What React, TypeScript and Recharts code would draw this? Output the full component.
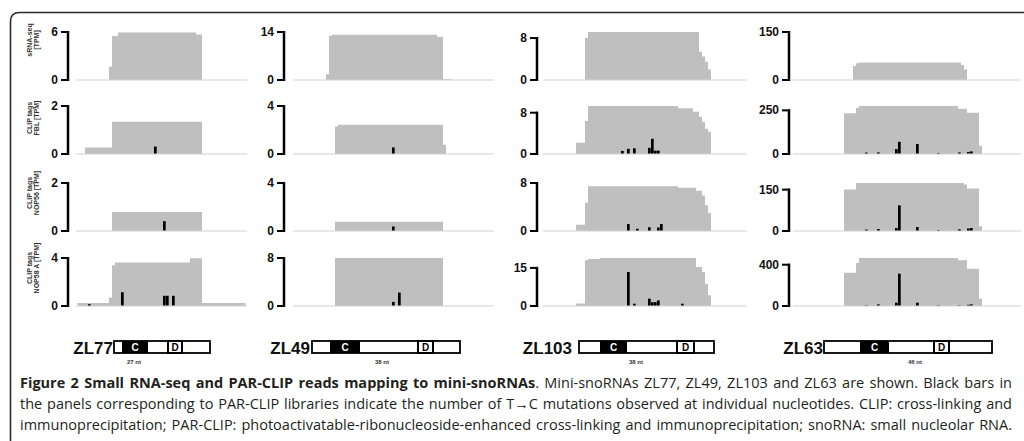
import React from "react";
import { ComposedChart, Area, Bar, XAxis, YAxis } from "recharts";

// snoRNAs shown in the four columns
const snoNames = ["ZL77", "ZL49", "ZL103", "ZL63"];
const snoLengths = ["27 nt", "38 nt", "38 nt", "46 nt"];
const positionsPerPanel = [57, 67, 68, 76];

const rowLabels = [
  ["sRNA-seq", "[TPM]"],
  ["CLIP tags", "FBL [TPM]"],
  ["CLIP tags", "NOP56 [TPM]"],
  ["CLIP tags", "NOP58 A [TPM]"],
];

// coverage as steps: [start position, TPM], value holds until the next step
const zl77Seq = [[11, 1.7], [12, 5.5], [14, 5.95], [40, 5.7], [42, 0]];
const zl77Fbl = [[3, 0.27], [12, 1.34], [42, 0]];
const zl77Nop56 = [[12, 0.79], [42, 0]];
const zl77Nop58 = [[0, 0.26], [11, 0.7], [12, 3.4], [13, 3.63], [38, 3.97], [42, 0.26]];

const zl49Seq = [[11, 1.66], [12, 12.9], [13, 13.2], [48, 12.6], [50, 0.25], [53, 0]];
const zl49Fbl = [[14, 2.3], [15, 2.44], [50, 0.78], [51, 0]];
const zl49Nop56 = [[14, 0.78], [50, 0]];
const zl49Nop58 = [[14, 8], [50, 0]];

const zl103Seq = [[14, 8], [15, 9.15], [52, 5.4], [53, 4.5], [54, 3.5], [55, 2], [56, 0]];
const zl103Fbl = [[11, 2.16], [14, 6.4], [15, 9.3], [45, 8.85], [50, 8.2], [52, 7.2], [53, 6.2], [54, 4.9], [55, 4.3], [56, 0]];
const zl103Nop56 = [[11, 1.05], [14, 4.7], [15, 7.47], [45, 7.2], [51, 6.7], [53, 5.9], [54, 4.3], [55, 3], [56, 0]];
const zl103Nop58 = [[11, 0.95], [14, 18], [15, 18.5], [19, 18.9], [51, 15.4], [53, 13.4], [54, 8.8], [55, 4.2], [56, 0]];

const zl63Seq = [[20, 44], [21, 52], [22, 55], [56, 47], [57, 33], [58, 0]];
const zl63Fbl = [[17, 233], [21, 265], [22, 275], [55, 259], [58, 237], [62, 47], [63, 0]];
const zl63Nop56 = [[17, 150], [21, 174], [57, 169], [58, 154], [62, 17], [63, 0]];
const zl63Nop58 = [[17, 323], [21, 416], [22, 465], [55, 442], [58, 361], [62, 71], [63, 0]];

// T->C mutations: [position, TPM]
const zl77FblMut = [[26, 0.31]];
const zl77Nop56Mut = [[29, 0.41]];
const zl77Nop58Mut = [[4, 0.15], [15, 1.15], [29, 0.85], [30, 0.85], [32, 0.85]];

const zl49FblMut = [[33, 0.55]];
const zl49Nop56Mut = [[33, 0.38]];
const zl49Nop58Mut = [[33, 0.69], [35, 2.24]];

const zl103FblMut = [[26, 0.6], [28, 1.0], [30, 1.1], [35, 1.2], [36, 2.95], [37, 0.65], [38, 0.65]];
const zl103Nop56Mut = [[28, 1.16], [31, 0.37], [35, 0.63], [38, 0.6], [39, 1.16]];
const zl103Nop58Mut = [[28, 13.4], [30, 0.9], [35, 2.9], [36, 1.5], [37, 1.5], [38, 2.2], [46, 0.9]];

const zl63FblMut = [[24, 8], [28, 9], [34, 28], [35, 70], [41, 57], [48, 5], [55, 9], [58, 12], [59, 15]];
const zl63Nop56Mut = [[24, 5], [28, 7], [34, 11], [35, 93], [41, 14.5], [48, 3], [55, 6], [58, 9], [59, 11]];
const zl63Nop58Mut = [[24, 6], [28, 16], [34, 32], [35, 313], [41, 32], [48, 6], [55, 6], [58, 12], [59, 16]];

// top tick of each y axis, rows top to bottom
const zl77Ticks = [6, 2, 2, 4];
const zl49Ticks = [14, 4, 4, 8];
const zl103Ticks = [8, 8, 8, 15];
const zl63Ticks = [150, 250, 150, 400];

const columns = [
  { cov: [zl77Seq, zl77Fbl, zl77Nop56, zl77Nop58], mut: [[], zl77FblMut, zl77Nop56Mut, zl77Nop58Mut], ticks: zl77Ticks },
  { cov: [zl49Seq, zl49Fbl, zl49Nop56, zl49Nop58], mut: [[], zl49FblMut, zl49Nop56Mut, zl49Nop58Mut], ticks: zl49Ticks },
  { cov: [zl103Seq, zl103Fbl, zl103Nop56, zl103Nop58], mut: [[], zl103FblMut, zl103Nop56Mut, zl103Nop58Mut], ticks: zl103Ticks },
  { cov: [zl63Seq, zl63Fbl, zl63Nop56, zl63Nop58], mut: [[], zl63FblMut, zl63Nop56Mut, zl63Nop58Mut], ticks: zl63Ticks },
];

// layout
const colLeft = [76, 293, 543, 793];
const colGap = [8, 9, 6, 4];
const rowZero = [80, 154, 231, 306];
const PLOT_H = 48;
const STEP = 3;
const YW = 40;
const MT = 8;
const MB = 8;
const ARIAL = "'Liberation Sans', Arial, sans-serif";

// gene diagram layout: label right edge, box start/end, C box, D box, nt label centre
const geneLayout = [
  { lab: 113, b0: 114, b1: 210, c0: 122, c1: 148, d0: 168, d1: 182, nt: 134 },
  { lab: 310, b0: 312, b1: 460, c0: 330, c1: 360, d0: 418, d1: 433, nt: 382 },
  { lab: 572, b0: 579, b1: 714, c0: 600, c1: 627, d0: 677, d1: 694, nt: 636 },
  { lab: 823, b0: 824, b1: 992, c0: 860, c1: 889, d0: 934, d1: 949, nt: 915 },
];
const rowLabelY = [40, 118, 193, 268];

function buildRows(n: number, steps: number[][], muts: number[][]) {
  const rows: { pos: number; cov: number; mut: number | null }[] = [];
  let k = 0;
  let v = 0;
  for (let p = 0; p < n; p++) {
    while (k < steps.length && steps[k][0] <= p) {
      v = steps[k][1];
      k++;
    }
    const m = muts.find((d) => d[0] === p);
    rows.push({ pos: p, cov: v, mut: m ? m[1] : null });
  }
  return rows;
}

const bracketTick = (gap: number, bracketPx: number) => (props: any) => {
  const { x, y, payload } = props;
  const bx = x - gap;
  return (
    <g>
      <text
        x={bx - 10}
        y={y}
        textAnchor="end"
        dominantBaseline="central"
        fontSize={12}
        fontWeight="bold"
        fontFamily={ARIAL}
        fill="#111"
      >
        {payload.value}
      </text>
      <line x1={bx - 7} x2={bx + 1} y1={y} y2={y} stroke="#000" strokeWidth={2} />
      {payload.value === 0 && (
        <line x1={bx} x2={bx} y1={y + 1} y2={y - bracketPx - 1} stroke="#000" strokeWidth={2.5} />
      )}
    </g>
  );
};

function Panel({ col, row }: { col: number; row: number }) {
  const n = positionsPerPanel[col];
  const c = columns[col];
  const tickMax = c.ticks[row];
  const data = buildRows(n, c.cov[row], c.mut[row]);
  const top = Math.max(tickMax, ...data.map((d) => Math.max(d.cov, d.mut ?? 0)));
  const bracketPx = (PLOT_H * tickMax) / top;
  return (
    <div style={{ position: "absolute", left: colLeft[col] - YW, top: rowZero[row] - PLOT_H - MT }}>
      <ComposedChart
        width={YW + n * STEP}
        height={MT + PLOT_H + 2 + MB}
        data={data}
        margin={{ top: MT, right: 0, bottom: MB, left: 0 }}
        barCategoryGap={0}
        barGap={0}
      >
        <XAxis dataKey="pos" tick={false} tickLine={false} axisLine={{ stroke: "#d2d2d2", strokeWidth: 1 }} height={2} />
        <YAxis
          width={YW}
          type="number"
          domain={[0, top]}
          ticks={[0, tickMax]}
          interval={0}
          tickSize={0}
          tickMargin={0}
          tickLine={false}
          axisLine={false}
          tick={bracketTick(colGap[col], bracketPx)}
        />
        <Area
          type="step"
          dataKey="cov"
          stroke="none"
          fill="#bfbfbf"
          fillOpacity={1}
          dot={false}
          activeDot={false}
          isAnimationActive={false}
        />
        <Bar dataKey="mut" fill="#000" barSize={3} isAnimationActive={false} />
      </ComposedChart>
    </div>
  );
}

const captionStyle: React.CSSProperties = {
  textAlign: "justify",
  textAlignLast: "justify",
  lineHeight: "21px",
  height: 21,
};

export default function App() {
  return (
    <div
      style={{
        position: "absolute",
        left: 0,
        top: 0,
        width: 1024,
        height: 441,
        overflow: "hidden",
        background: "#fff",
      }}
    >
      <svg width={1024} height={441} style={{ position: "absolute", left: 0, top: 0 }}>
        <path d="M 10.5 470 L 10.5 21.5 Q 10.5 12.5 19.5 12.5 L 1040 12.5" fill="none" stroke="#2a2a2a" strokeWidth={1.6} />
        {rowLabels.map((lines, r) => (
          <text
            key={r}
            transform={`translate(33, ${rowLabelY[r]}) rotate(-90)`}
            textAnchor="middle"
            fontSize={7}
            fontWeight="bold"
            fontFamily={ARIAL}
            fill="#333"
          >
            <tspan x={0} y={-3.3} dominantBaseline="central">{lines[0]}</tspan>
            <tspan x={0} y={3.6} dominantBaseline="central">{lines[1]}</tspan>
          </text>
        ))}
        {geneLayout.map((g, i) => (
          <g key={i} fontFamily={ARIAL} fontWeight="bold">
            <text x={g.lab} y={348.5} textAnchor="end" dominantBaseline="central" fontSize={17} fill="#111">
              {snoNames[i]}
            </text>
            <rect x={g.b0} y={341} width={g.b1 - g.b0} height={12} fill="#fff" stroke="#000" strokeWidth={1.8} />
            <rect x={g.c0} y={341} width={g.c1 - g.c0} height={12} fill="#000" />
            <text x={(g.c0 + g.c1) / 2} y={347.5} textAnchor="middle" dominantBaseline="central" fontSize={10} fill="#fff">
              C
            </text>
            <rect x={g.d0} y={341} width={g.d1 - g.d0} height={12} fill="#fff" stroke="#000" strokeWidth={2} />
            <text x={(g.d0 + g.d1) / 2} y={347.5} textAnchor="middle" dominantBaseline="central" fontSize={10} fill="#000">
              D
            </text>
            <text x={g.nt} y={362} textAnchor="middle" dominantBaseline="central" fontSize={6} fill="#333">
              {snoLengths[i]}
            </text>
          </g>
        ))}
      </svg>
      {[0, 1, 2, 3].map((col) => [0, 1, 2, 3].map((row) => <Panel key={`${col}-${row}`} col={col} row={row} />))}
      <div
        style={{
          position: "absolute",
          left: 20,
          top: 372,
          width: 992,
          fontFamily: "'Open Sans', sans-serif",
          fontSize: 14.5,
          color: "#231f20",
        }}
      >
        <div style={captionStyle}>
          <b>Figure 2 Small RNA-seq and PAR-CLIP reads mapping to mini-snoRNAs</b>. Mini-snoRNAs ZL77, ZL49, ZL103 and
          ZL63 are shown. Black bars in
        </div>
        <div style={captionStyle}>
          the panels corresponding to PAR-CLIP libraries indicate the number of T→C mutations observed at individual
          nucleotides. CLIP: cross-linking and
        </div>
        <div style={captionStyle}>
          immunoprecipitation; PAR-CLIP: photoactivatable-ribonucleoside-enhanced cross-linking and immunoprecipitation;
          snoRNA: small nucleolar RNA.
        </div>
      </div>
    </div>
  );
}
